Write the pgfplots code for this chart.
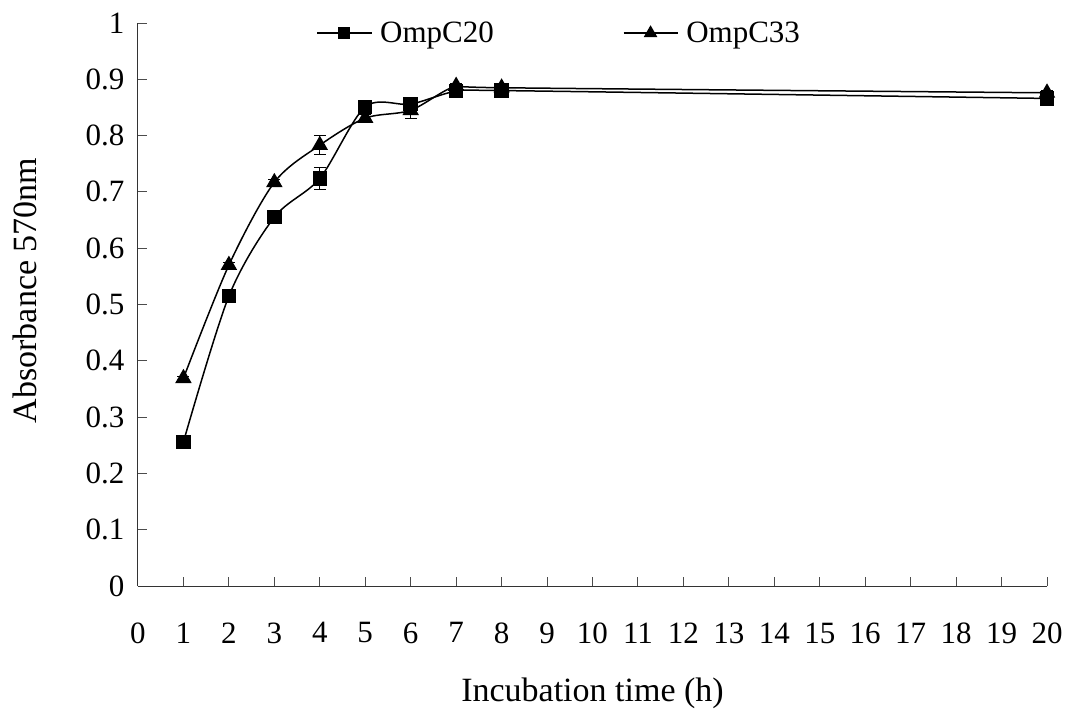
\documentclass[border=0pt]{standalone}
\usepackage{fontspec}
\setmainfont{Liberation Serif}
\usepackage{pgfplots}
\pgfplotsset{compat=1.18}
\begin{document}
\begin{tikzpicture}
\useasboundingbox (-138pt,-130pt) rectangle (934pt,586pt);
\begin{axis}[
  scale only axis,
  width=909pt, height=563pt,
  xmin=0, xmax=20, ymin=0, ymax=1,
  axis x line=bottom, axis y line=left,
  axis line style={-, line width=1pt, black!80},
  xtick={0,1,...,20},
  ytick={0,0.1,...,1.0},
  tick align=inside,
  major tick length=9pt,
  tick style={line width=1pt, black!70},
  clip=false,
  /pgf/number format/assume math mode=true,
  yticklabel style={/pgf/number format/fixed, font=\fontsize{31}{37}\selectfont, xshift=-10pt},
  xticklabel style={font=\fontsize{31}{37}\selectfont, yshift=-33pt},
  label style={font=\fontsize{34}{41}\selectfont},
  ylabel={Absorbance 570nm},
  xlabel={Incubation time (h)},
  ylabel style={at={(axis description cs:-0.1243,0.525)}, anchor=center},
  xlabel style={at={(axis description cs:0.5,-0.190)}, anchor=center},
  legend columns=2,
  legend style={draw=none, fill=none, font=\fontsize{31}{37}\selectfont,
    at={(axis description cs:0.193,0.982)}, anchor=west,
    /tikz/every odd column/.append style={column sep=6pt},
    /tikz/every even column/.append style={column sep=127pt}},
  legend image code/.code={\draw[mark repeat=2,mark phase=2, mark options={scale=0.8}] plot coordinates {(0pt,0pt)(27pt,0pt)(54pt,0pt)};},
]
\addplot[black, line width=1.5pt, smooth, tension=0.5, mark=square*, mark size=6.5pt,
  mark options={solid},
  error bars/.cd, y dir=both, y explicit,
  error bar style={line width=1pt, black},
  error mark options={rotate=90, mark size=6pt, line width=1pt}]
coordinates {
(1,0.256) +- (0,0.006)
(2,0.515) +- (0,0.006)
(3,0.655) +- (0,0.010)
(4,0.724) +- (0,0.020)
(5,0.851) +- (0,0.008)
(6,0.856) +- (0,0.006)
(7,0.879) +- (0,0.004)
(8,0.880) +- (0,0.003)
(20,0.866) +- (0,0.004)
};
\addlegendentry{OmpC20}
\addplot[black, line width=1.5pt, smooth, tension=0.5, mark=triangle*, mark size=8pt,
  mark options={solid},
  error bars/.cd, y dir=both, y explicit,
  error bar style={line width=1pt, black},
  error mark options={rotate=90, mark size=6pt, line width=1pt}]
coordinates {
(1,0.369) +- (0,0.004)
(2,0.570) +- (0,0.004)
(3,0.717) +- (0,0.005)
(4,0.783) +- (0,0.017)
(5,0.831) +- (0,0.006)
(6,0.845) +- (0,0.014)
(7,0.888) +- (0,0.004)
(8,0.885) +- (0,0.003)
(20,0.876) +- (0,0.004)
};
\addlegendentry{OmpC33}
\end{axis}
\end{tikzpicture}
\end{document}
